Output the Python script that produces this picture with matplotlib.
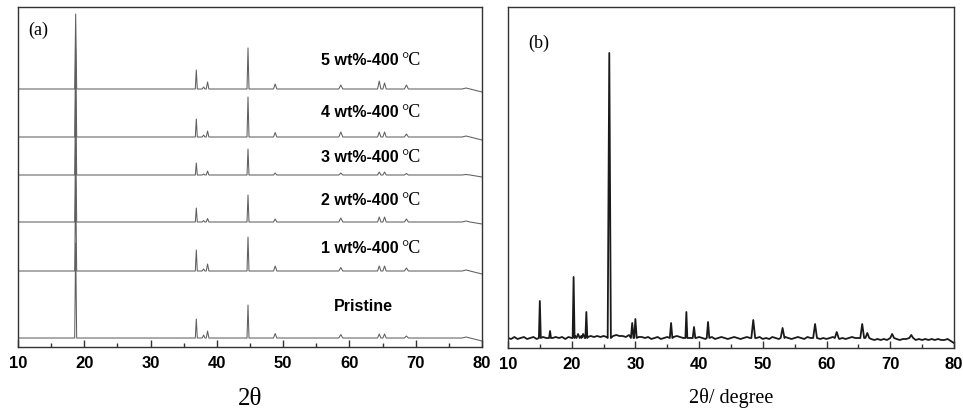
import numpy as np
import matplotlib
matplotlib.use('Agg')
from matplotlib import pyplot as plt

# ---- panel (a) data: peak positions (2theta) and heights for each sample ----
peaks_a = [18.7, 36.9, 38.0, 38.6, 44.7, 48.8, 58.7, 64.5, 65.3, 68.6, 77.6]
hw_a = [0.15, 0.15, 0.2, 0.2, 0.15, 0.25, 0.3, 0.25, 0.25, 0.3, 0.6]

samples = ['Pristine', '1 wt%-400', '2 wt%-400', '3 wt%-400', '4 wt%-400', '5 wt%-400']
offsets = [9, 76, 125, 172, 210, 258]
h_pristine = [95, 19, 3, 7, 33, 4.5, 3.5, 4, 4, 2, 1]
h_1wt = [90, 21, 2, 7, 34, 5, 3.5, 5, 5, 3, 1]
h_2wt = [88, 14, 1.5, 3.5, 27, 3, 4, 5, 5, 3, 1]
h_3wt = [85, 12, 1, 4, 26, 2, 2, 3, 3, 1.5, 0.5]
h_4wt = [88, 18, 2, 6, 40, 4.5, 5, 5, 5, 3, 1]
h_5wt = [75, 19, 2, 7, 41, 5, 4, 8, 6, 4, 1]
heights_a = [h_pristine, h_1wt, h_2wt, h_3wt, h_4wt, h_5wt]
end_drop = [3, 3, 2, 2, 3, 3]

# ---- panel (b) data ----
peaks_b = [15.0, 16.6, 20.3, 21.0, 21.8, 22.3, 25.9, 29.5, 30.0, 35.6, 38.0,
           39.2, 41.4, 48.5, 53.1, 58.2, 61.6, 65.6, 66.4, 70.3, 73.3]
h_b = [37, 7, 61, 4, 4, 26, 285, 15, 19, 15, 26,
       11, 16, 18, 10, 14, 6, 14, 5, 4, 3]
hw_b = [0.15, 0.15, 0.15, 0.25, 0.25, 0.15, 0.25, 0.2, 0.2, 0.2, 0.15,
        0.2, 0.2, 0.3, 0.3, 0.3, 0.3, 0.3, 0.3, 0.3, 0.3]
base_b = 10
# baseline wiggle every 0.5 degree, 10 -> 80
x_noise = np.arange(10, 80.01, 0.5)
noise_b = [0, -1, 1, -1, 0, 1, -1, 0, 1, -1,
           0, 1, 0, 2, 0, 1, 0, 1, -1, 1,
           0, 2, 3, 2, 3, 1, 2, 1, 2, 1,
           2, 1, 3, 2, 3, 2, 2, 1, 3, 2,
           2, 1, 1, 0, 1, -1, 0, 1, -1, 0,
           1, 0, 1, 2, 1, 0, 1, 0, 1, 0,
           1, 0, -1, 0, 1, -1, 0, 1, 0, -1,
           0, 1, 0, -1, 0, 1, 0, -1, 0, 1,
           -1, 0, -1, 1, 0, -1, 0, 1, 0, -1,
           0, 1, 0, -1, 1, 0, 1, 0, -1, 0,
           -1, 0, 1, 0, -1, 0, -1, 0, 1, 0,
           0, 1, 0, -1, -1, -2, -1, -2, -1, -2,
           -1, -2, -1, -2, -1, -1, -2, -1, -2, -1,
           -2, -1, -2, -1, -2, -1, -2, -2, -1, -3,
           -5]


def pattern(base, peaks, heights, widths, drop):
    # straight segments between peak feet and peak tops
    xs = [10.0]
    ys = [base]
    for p, h, w in zip(peaks, heights, widths):
        xs += [p - w, p, p + w]
        ys += [base, base + h, base]
    xs.append(80.0)
    ys.append(base - drop)
    return xs, ys


serif = 'Liberation Serif'

fig = plt.figure(figsize=(9.63, 4.10), dpi=100)
ax1 = fig.add_axes([0.0187, 0.1512, 0.4818, 0.8293])
ax2 = fig.add_axes([0.5275, 0.1488, 0.4631, 0.8317])

# panel (a)
for i in range(len(samples)):
    xs, ys = pattern(offsets[i], peaks_a, heights_a[i], hw_a, end_drop[i])
    ax1.plot(xs, ys, color='#5f5f5f', lw=0.75)

ax1.set_ylim(0, 340)
label_y = [42, 100, 148, 191, 235, 287]
for i in range(1, len(samples)):
    ax1.text(67.35, label_y[i], samples[i], ha='right', va='center',
             fontfamily='Liberation Sans', fontweight='bold', fontsize=11.5)
    ax1.text(67.75, label_y[i], '°C', ha='left', va='center',
             fontfamily=serif, fontsize=13)
ax1.text(62.1, label_y[0], samples[0], ha='center', va='center',
         fontfamily='Liberation Sans', fontweight='bold', fontsize=11.5)
ax1.text(0.022, 0.935, '(a)', transform=ax1.transAxes, ha='left', va='center',
         fontfamily=serif, fontsize=13)
ax1.set_xlabel('2θ', fontfamily=serif, fontsize=18, labelpad=12)

# panel (b)
keep = np.ones(len(x_noise), dtype=bool)
for p, w in zip(peaks_b, hw_b):
    keep &= ~((x_noise > p - w - 0.05) & (x_noise < p + w + 0.05))
pts = [(x, base_b + n) for x, n, k in zip(x_noise, noise_b, keep) if k]
for p, h, w in zip(peaks_b, h_b, hw_b):
    pts += [(p - w, base_b), (p, base_b + h), (p + w, base_b)]
pts.sort()
ax2.plot([p[0] for p in pts], [p[1] for p in pts], color='#1a1a1a', lw=1.3)
ax2.set_ylim(0, 341)
ax2.text(0.045, 0.895, '(b)', transform=ax2.transAxes, ha='left', va='center',
         fontfamily=serif, fontsize=13)
ax2.set_xlabel('2θ/ degree', fontfamily=serif, fontsize=14.5, labelpad=11)

for ax in (ax1, ax2):
    ax.set_xlim(10, 80)
    ax.set_xticks(range(10, 81, 10))
    ax.set_xticks(range(15, 80, 10), minor=True)
    ax.set_yticks([])
    ax.tick_params(axis='x', which='major', direction='in', length=5, width=1,
                   pad=6, color='#333333')
    ax.tick_params(axis='x', which='minor', direction='in', length=3, width=1,
                   color='#333333')
    for lab in ax.get_xticklabels():
        lab.set_fontfamily('Liberation Sans')
        lab.set_fontweight('bold')
        lab.set_fontsize(12)
    for sp in ax.spines.values():
        sp.set_linewidth(1.0)
        sp.set_color('#333333')

fig.savefig('out.png', dpi=100)
